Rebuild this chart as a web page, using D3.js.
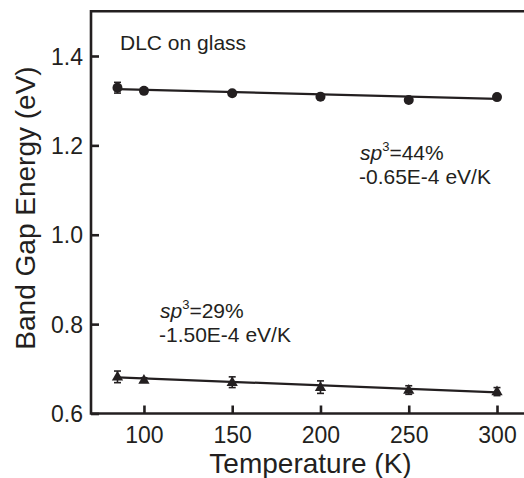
<!DOCTYPE html>
<html><head><meta charset="utf-8">
<script src="https://cdn.jsdelivr.net/npm/d3@7"></script>
<style>
html,body{margin:0;padding:0;background:#fff;}
svg{display:block;font-family:"Liberation Sans",Arial,Helvetica,sans-serif;}
</style></head>
<body><svg id="c" width="524" height="478"></svg>
<script>
// ---- data ----
const temps = [85, 100, 150, 200, 250, 300];
const gapHigh = [1.329, 1.322, 1.3165, 1.309, 1.3015, 1.308];     // sp3 = 44%
const errHigh = [0.012, 0.005, 0.004, 0.004, 0.004, 0.004];
const gapLow = [0.682, 0.675, 0.670, 0.659, 0.6525, 0.649];       // sp3 = 29%
const errLow = [0.013, 0.005, 0.012, 0.014, 0.0096, 0.009];
const fitT = [85, 300];
const fitHigh = [1.326, 1.304];
const fitLow = [0.681, 0.6474];
const xTicks = [100, 150, 200, 250, 300];
const yTicks = [0.6, 0.8, 1.0, 1.2, 1.4];
const xTitle = "Temperature (K)";
const yTitle = "Band Gap Energy (eV)";
const sampleLabel = "DLC on glass";
const annHigh = ["44%", "-0.65E-4 eV/K"];
const annLow = ["29%", "-1.50E-4 eV/K"];

// ---- drawing ----
const W = 524, H = 478;
const ink = "#231f20";
const svg = d3.select("#c");
const x = d3.scaleLinear().domain([70, 300]).range([91, 497]);
const y = d3.scaleLinear().domain([0.6, 1.5]).range([413.5, 11.3]);

// frame
const fr = svg.append("g").attr("stroke", ink).attr("stroke-width", 2.6).attr("fill", "none");
fr.append("line").attr("x1", x(70)).attr("x2", W).attr("y1", y(0.6)).attr("y2", y(0.6));
fr.append("line").attr("x1", x(70)).attr("x2", W).attr("y1", y(1.5)).attr("y2", y(1.5));
fr.append("line").attr("x1", x(70)).attr("x2", x(70)).attr("y1", y(0.6) + 1.3).attr("y2", y(1.5) - 1.3);

// axes
const xa = svg.append("g").attr("transform", `translate(0,${y(0.6)})`)
  .call(d3.axisBottom(x).tickValues(xTicks).tickSizeInner(-8).tickSizeOuter(0).tickPadding(13).tickFormat(d3.format("d")));
const ya = svg.append("g").attr("transform", `translate(${x(70)},0)`)
  .call(d3.axisLeft(y).tickValues(yTicks).tickSizeInner(-8).tickSizeOuter(0).tickPadding(8).tickFormat(d3.format(".1f")));
[xa, ya].forEach(a => {
  a.select(".domain").remove();
  a.selectAll(".tick line").attr("stroke", ink).attr("stroke-width", 2.6);
  a.selectAll(".tick text").attr("fill", ink).style("font-size", "23px").style("font-family", "Liberation Sans, Arial, sans-serif");
});
xa.selectAll(".tick text").attr("y", 0).attr("dy", null).attr("transform", "translate(0,29.5)");
ya.selectAll(".tick text").attr("dy", "0.35em");

// titles
svg.append("text").attr("x", 310.5).attr("y", 472.5).attr("text-anchor", "middle")
  .attr("fill", ink).style("font-size", "28px").text(xTitle);
svg.append("text").attr("transform", "translate(35,208) rotate(-90)").attr("text-anchor", "middle")
  .attr("fill", ink).style("font-size", "28px").text(yTitle);

// fit lines
const line = d3.line().x(d => x(d[0])).y(d => y(d[1]));
[fitHigh, fitLow].forEach(f => {
  svg.append("path").datum(fitT.map((t, i) => [t, f[i]])).attr("d", line)
    .attr("fill", "none").attr("stroke", ink).attr("stroke-width", 2.2);
});

// error bars
function errBars(vals, errs) {
  const g = svg.append("g").attr("stroke", ink).attr("stroke-width", 1.6);
  temps.forEach((t, i) => {
    const cx = x(t), y1 = y(vals[i] + errs[i]), y2 = y(vals[i] - errs[i]);
    g.append("line").attr("x1", cx).attr("x2", cx).attr("y1", y1).attr("y2", y2);
    g.append("line").attr("x1", cx - 3.5).attr("x2", cx + 3.5).attr("y1", y1).attr("y2", y1);
    g.append("line").attr("x1", cx - 3.5).attr("x2", cx + 3.5).attr("y1", y2).attr("y2", y2);
  });
}
errBars(gapHigh, errHigh);
errBars(gapLow, errLow);

// markers
svg.append("g").selectAll("circle").data(temps.map((t, i) => [t, gapHigh[i]])).join("circle")
  .attr("cx", d => x(d[0])).attr("cy", d => y(d[1])).attr("r", 5).attr("fill", ink);
svg.append("g").selectAll("path").data(temps.map((t, i) => [t, gapLow[i]])).join("path")
  .attr("d", d3.symbol().type(d3.symbolTriangle).size(55))
  .attr("transform", d => `translate(${x(d[0])},${y(d[1]) + 0.5})`).attr("fill", ink);

// annotations
svg.append("text").attr("x", 120).attr("y", 49.5).attr("fill", ink).style("font-size", "21px").text(sampleLabel);
function ann(x0, y0, a) {
  const t = svg.append("text").attr("x", x0).attr("y", y0).attr("fill", ink).style("font-size", "21px");
  t.append("tspan").style("font-style", "italic").text("sp");
  t.append("tspan").attr("dy", -9).style("font-size", "13px").text("3");
  t.append("tspan").attr("dy", 9).text("=" + a[0]);
  svg.append("text").attr("x", x0 - 1).attr("y", y0 + 24).attr("fill", ink).style("font-size", "21px").text(a[1]);
}
ann(360, 159.5, annHigh);
ann(160, 317.5, annLow);
</script></body></html>
